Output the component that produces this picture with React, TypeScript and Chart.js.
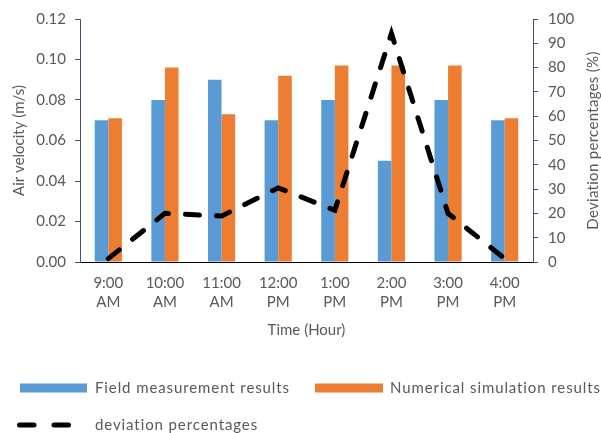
import { useEffect, useRef } from "react";
import { Chart, registerables } from "chart.js";

Chart.register(...registerables);

const categories: string[][] = [
  ["9:00", "AM"],
  ["10:00", "AM"],
  ["11:00", "AM"],
  ["12:00", "PM"],
  ["1:00", "PM"],
  ["2:00", "PM"],
  ["3:00", "PM"],
  ["4:00", "PM"],
];
const fieldMeasurement = [0.07, 0.08, 0.09, 0.07, 0.08, 0.05, 0.08, 0.07];
const numericalSimulation = [0.071, 0.096, 0.073, 0.092, 0.097, 0.097, 0.097, 0.071];
const deviationPercentages = [1.4, 20, 18.9, 30.5, 21.3, 94, 20, 1.4];

const seriesLabels = ["Field measurement results", "Numerical simulation results", "deviation percentages"];
const leftAxisTitle = "Air velocity (m/s)";
const rightAxisTitle = "Deviation percentages (%)";
const xAxisTitle = "Time (Hour)";

const FONT = "Lato";
const TEXT = "#595959";
const AXIS = "#44546A";
const BLUE = "#5B9BD5";
const ORANGE = "#ED7D31";

const decorPlugin = {
  id: "decor",
  afterDraw(chart: any) {
    const ctx = chart.ctx as CanvasRenderingContext2D;
    const area = chart.chartArea;
    const ds = chart.data.datasets;
    ctx.save();
    ctx.font = `15px ${FONT}`;
    ctx.fillStyle = TEXT;
    ctx.textBaseline = "middle";
    ctx.textAlign = "center";
    // right axis title (reads bottom to top)
    ctx.save();
    ctx.translate(593, (area.top + area.bottom) / 2);
    ctx.rotate(-Math.PI / 2);
    (ctx as any).letterSpacing = "0.3px";
    ctx.fillText(rightAxisTitle, 0, 0);
    ctx.restore();

    // legend
    (ctx as any).letterSpacing = "0.9px";
    ctx.textAlign = "left";
    const row1 = 388;
    const row2 = 425;
    ctx.fillStyle = ds[0].backgroundColor;
    ctx.fillRect(20, row1 - 4.5, 67, 9);
    ctx.fillStyle = TEXT;
    ctx.fillText(ds[0].label, 95, row1);
    ctx.fillStyle = ds[1].backgroundColor;
    ctx.fillRect(315, row1 - 4.5, 68, 9);
    ctx.fillStyle = TEXT;
    ctx.fillText(ds[1].label, 390, row1);

    ctx.strokeStyle = ds[2].borderColor;
    ctx.lineWidth = 5;
    ctx.lineCap = "round";
    ctx.beginPath();
    ctx.moveTo(19.5, row2);
    ctx.lineTo(34, row2);
    ctx.moveTo(54, row2);
    ctx.lineTo(68.5, row2);
    ctx.stroke();
    ctx.fillStyle = TEXT;
    ctx.fillText(ds[2].label, 95, row2);
    ctx.restore();
  },
};

export default function App() {
  const ref = useRef<HTMLCanvasElement>(null);
  useEffect(() => {
    if (!ref.current) return;
    const chart = new Chart(ref.current, {
      type: "bar",
      data: {
        labels: categories,
        datasets: [
          {
            type: "bar",
            label: seriesLabels[0],
            data: fieldMeasurement,
            backgroundColor: BLUE,
            borderWidth: 0,
            categoryPercentage: 0.48,
            barPercentage: 1,
            yAxisID: "y",
            order: 1,
          },
          {
            type: "bar",
            label: seriesLabels[1],
            data: numericalSimulation,
            backgroundColor: ORANGE,
            borderWidth: 0,
            categoryPercentage: 0.48,
            barPercentage: 1,
            yAxisID: "y",
            order: 1,
          },
          {
            type: "line",
            label: seriesLabels[2],
            data: deviationPercentages,
            borderColor: "#000000",
            backgroundColor: "#000000",
            borderWidth: 5,
            borderDash: [14, 17],
            borderCapStyle: "round",
            pointRadius: 0,
            tension: 0,
            fill: false,
            yAxisID: "y1",
            order: 0,
          },
        ] as any,
      },
      options: {
        responsive: false,
        animation: false,
        layout: { padding: { top: 17, left: 0, right: 0, bottom: 75 } },
        plugins: {
          legend: { display: false },
          tooltip: { enabled: false },
        },
        scales: {
          x: {
            type: "category",
            offset: true,
            grid: { display: true, drawOnChartArea: false, drawTicks: false, color: "rgba(0,0,0,0)" },
            border: { display: true, color: "#000000", width: 1 },
            ticks: {
              color: TEXT,
              font: { family: FONT, size: 15, lineHeight: 1.3 },
              padding: 11,
              maxRotation: 0,
              autoSkip: false,
            },
            title: {
              display: true,
              text: xAxisTitle,
              color: TEXT,
              font: { family: FONT, size: 15 },
              padding: { top: 0, bottom: 19 },
            },
            afterFit: (s: any) => {
              s.height = 96;
            },
          },
          y: {
            position: "left",
            min: 0,
            max: 0.12,
            ticks: {
              stepSize: 0.02,
              color: TEXT,
              font: { family: FONT, size: 15 },
              padding: 9,
              callback: (v: any) => Number(v).toFixed(2),
            },
            grid: { drawOnChartArea: false, tickLength: 5, color: AXIS },
            border: { display: true, color: AXIS, width: 1 },
            title: {
              display: true,
              text: leftAxisTitle,
              color: TEXT,
              font: { family: FONT, size: 15 },
              padding: { top: 10, bottom: 0 },
            },
            afterFit: (s: any) => {
              s.width = 80;
            },
          },
          y1: {
            position: "right",
            min: 0,
            max: 100,
            ticks: {
              stepSize: 10,
              color: TEXT,
              font: { family: FONT, size: 15 },
              padding: 10,
            },
            grid: { drawOnChartArea: false, tickLength: 5, color: AXIS },
            border: { display: true, color: AXIS, width: 1 },
            afterFit: (s: any) => {
              s.width = 68;
            },
          },
        },
      } as any,
      plugins: [decorPlugin],
    });
    return () => chart.destroy();
  }, []);
  return (
    <div style={{ position: "absolute", left: 0, top: 0, width: 601, height: 433, background: "#fff" }}>
      <canvas ref={ref} width={601} height={433} style={{ display: "block" }} />
    </div>
  );
}
